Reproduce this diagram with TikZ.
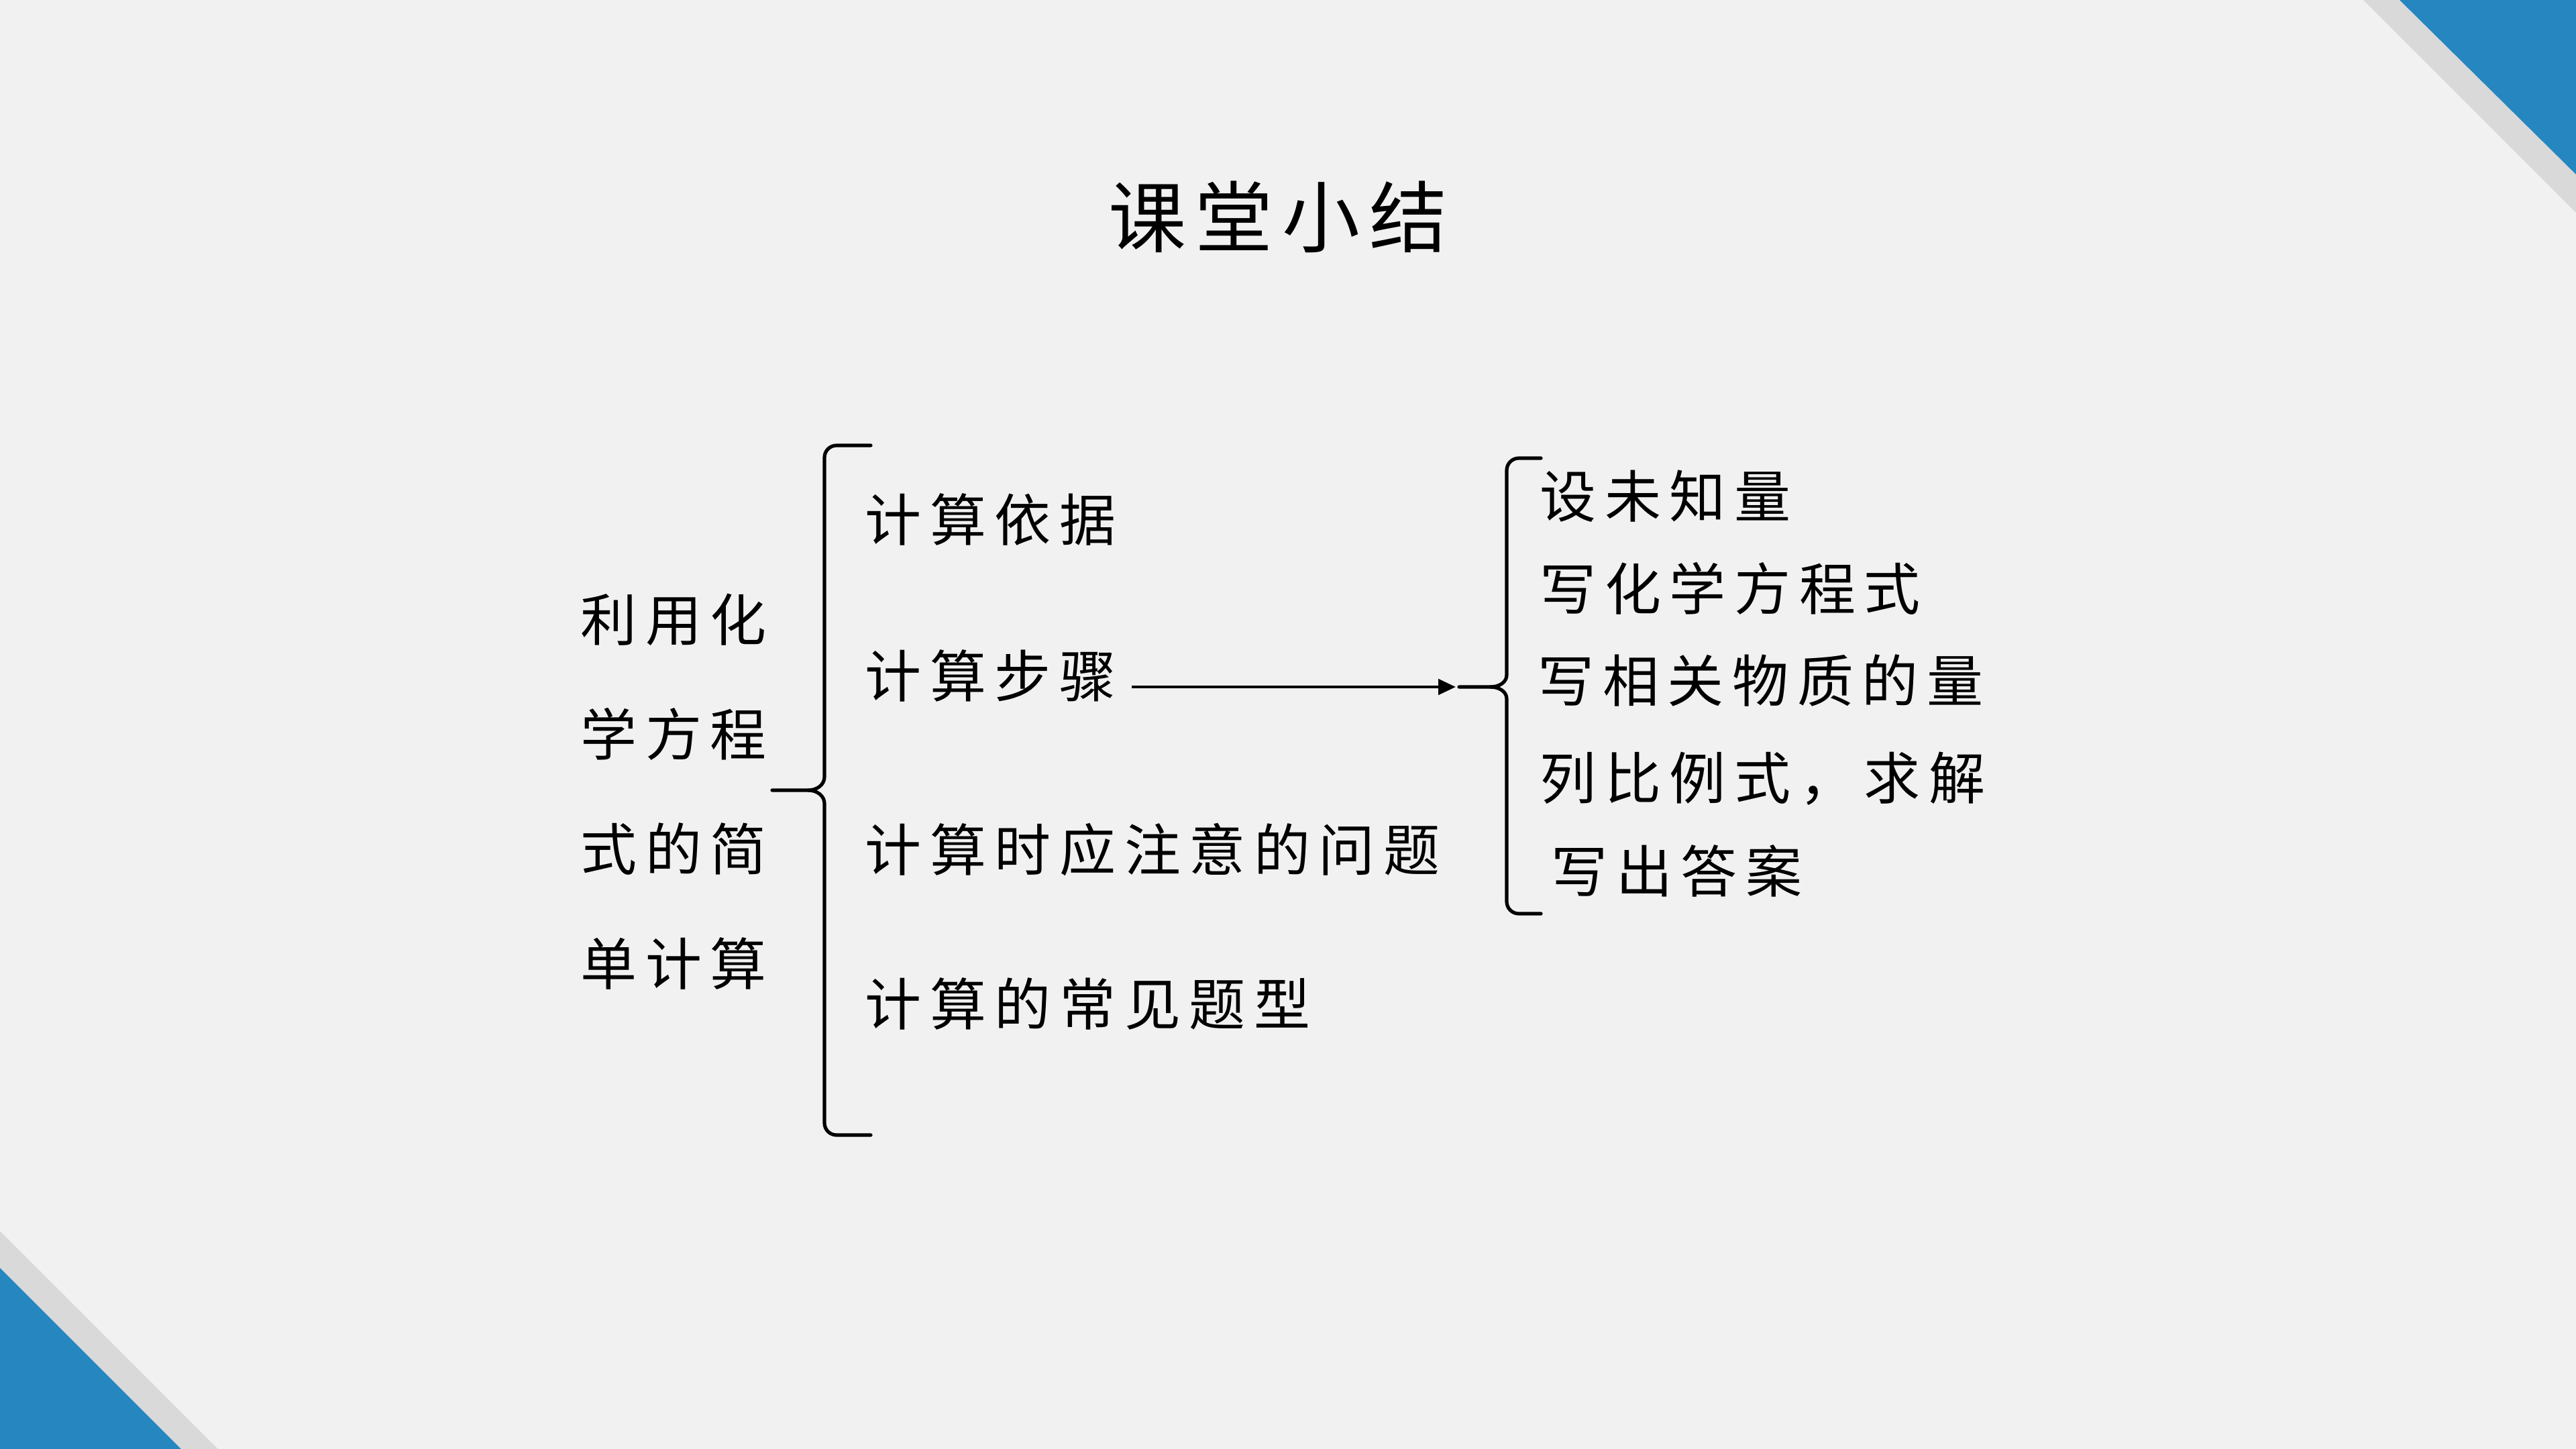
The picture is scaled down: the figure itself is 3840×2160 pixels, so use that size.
\documentclass[tikz,border=0pt]{standalone}
\usepackage{fontspec}
\usetikzlibrary{arrows.meta}
\newfontfamily\cjk[LetterSpace=15]{Noto Sans CJK SC}
\newfontfamily\cjktitle[LetterSpace=12]{Noto Sans CJK SC}
\definecolor{bgfill}{HTML}{F1F1F1}
\definecolor{cornerblue}{RGB}{37,134,192}
\definecolor{stripegray}{HTML}{D9D9D9}
\tikzset{
  item/.style={anchor=west, inner sep=0pt, font=\cjk\fontsize{21}{24}\selectfont},
  titletext/.style={inner sep=0pt, font=\cjktitle\fontsize{29}{32}\selectfont},
  bracepath/.style={line width=1.3pt, line cap=round, line join=round},
  arr/.style={line width=1.1pt, -{Triangle[length=6.5pt,width=5.8pt]}}
}
\begin{document}
\begin{tikzpicture}[x=0.25pt, y=-0.25pt]
\useasboundingbox (0,0) rectangle (3840,2160);
\fill[bgfill] (0,0) rectangle (3840,2160);
% corners
\fill[stripegray] (3523,0) -- (3840,0) -- (3840,317) -- cycle;
\fill[cornerblue] (3577,0) -- (3840,0) -- (3840,260) -- cycle;
\fill[stripegray] (0,1835) -- (325,2160) -- (0,2160) -- cycle;
\fill[cornerblue] (0,1890) -- (270,2160) -- (0,2160) -- cycle;
% title
\node[titletext] (title) at (1905,323) {课堂小结};
% left label
\node[anchor=west, inner sep=0pt, align=left, font=\cjk\fontsize{21}{42.75}\selectfont] (main) at (865,1180) {利用化\\学方程\\式的简\\单计算};
% left brace
\coordinate (ltip) at (1151,1178);
\draw[bracepath] (1298,664) -- (1247,664) to[out=180,in=90] (1229,682) -- (1229,1158)
  to[out=-90,in=0] (1205,1178) -- (ltip);
\draw[bracepath] (1205,1178) to[out=0,in=90] (1229,1198) -- (1229,1674)
  to[out=-90,in=180] (1247,1692) -- (1298,1692);
% items
\node[item] (basis) at (1289,774) {计算依据};
\node[item] (step) at (1289,1007) {计算步骤};
\node[item] (note) at (1289,1266) {计算时应注意的问题};
\node[item] (types) at (1289,1496) {计算的常见题型};
% right brace
\coordinate (rtip) at (2175,1024);
\coordinate (astart) at (1687,1024);
\coordinate (aend) at (2170,1024);
\draw[bracepath] (2297,683) -- (2264,683) to[out=180,in=90] (2246,701) -- (2246,1006)
  to[out=-90,in=0] (2222,1024) -- (rtip);
\draw[bracepath] (2222,1024) to[out=0,in=90] (2246,1042) -- (2246,1344)
  to[out=-90,in=180] (2264,1362) -- (2297,1362);
% arrow
\draw[arr] (astart) -- (aend);
% right items
\node[item] (s1) at (2295,740) {设未知量};
\node[item] (s2) at (2295,877) {写化学方程式};
\node[item] (s3) at (2292,1014) {写相关物质的量};
\node[item] (s4) at (2295,1161) {列比例式，求解};
\node[item] (s5) at (2312,1298) {写出答案};
\end{tikzpicture}
\end{document}
